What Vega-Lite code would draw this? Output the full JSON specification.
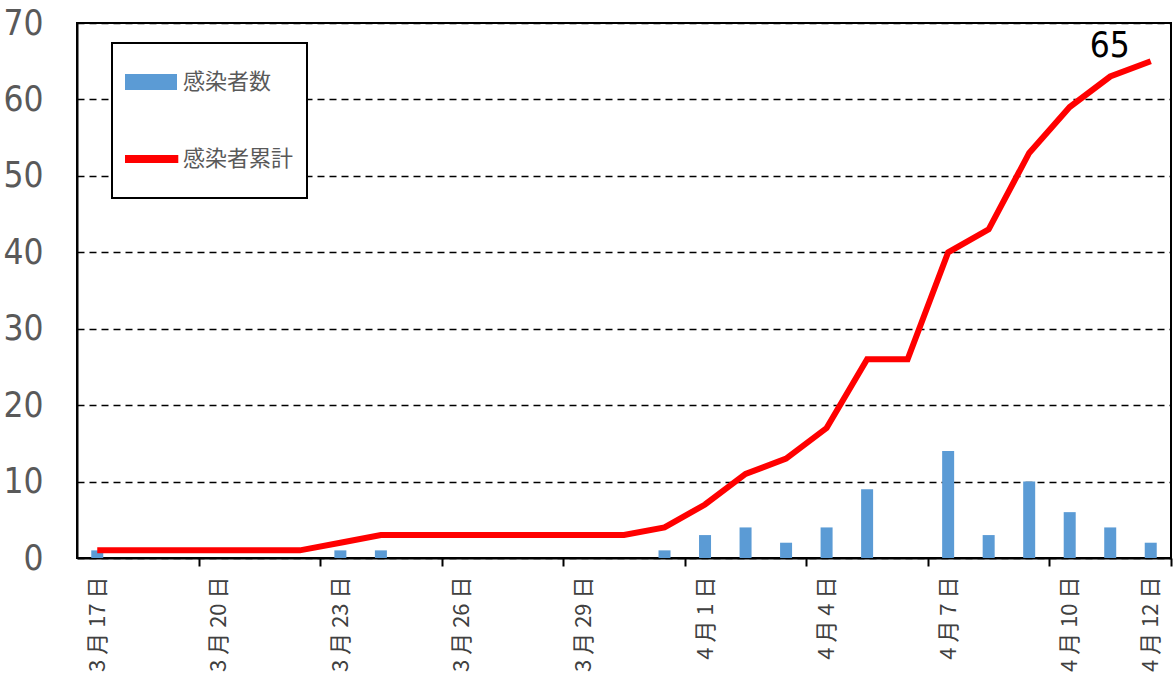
{
  "$schema": "https://vega.github.io/schema/vega-lite/v6.json",
  "width": 1094,
  "height": 535,
  "autosize": "none",
  "padding": {"left": 77, "top": 23, "right": 2, "bottom": 133},
  "background": "white",
  "config": {
    "view": {"stroke": "black", "strokeWidth": 2},
    "font": "Noto Sans CJK JP"
  },
  "data": {
    "values": [
      {"date": "3 月 17 日", "daily": 1, "cumulative": 1},
      {"date": "3 月 18 日", "daily": 0, "cumulative": 1},
      {"date": "3 月 19 日", "daily": 0, "cumulative": 1},
      {"date": "3 月 20 日", "daily": 0, "cumulative": 1},
      {"date": "3 月 21 日", "daily": 0, "cumulative": 1},
      {"date": "3 月 22 日", "daily": 0, "cumulative": 1},
      {"date": "3 月 23 日", "daily": 1, "cumulative": 2},
      {"date": "3 月 24 日", "daily": 1, "cumulative": 3},
      {"date": "3 月 25 日", "daily": 0, "cumulative": 3},
      {"date": "3 月 26 日", "daily": 0, "cumulative": 3},
      {"date": "3 月 27 日", "daily": 0, "cumulative": 3},
      {"date": "3 月 28 日", "daily": 0, "cumulative": 3},
      {"date": "3 月 29 日", "daily": 0, "cumulative": 3},
      {"date": "3 月 30 日", "daily": 0, "cumulative": 3},
      {"date": "3 月 31 日", "daily": 1, "cumulative": 4},
      {"date": "4 月 1 日", "daily": 3, "cumulative": 7},
      {"date": "4 月 2 日", "daily": 4, "cumulative": 11},
      {"date": "4 月 3 日", "daily": 2, "cumulative": 13},
      {"date": "4 月 4 日", "daily": 4, "cumulative": 17},
      {"date": "4 月 5 日", "daily": 9, "cumulative": 26},
      {"date": "4 月 6 日", "daily": 0, "cumulative": 26},
      {"date": "4 月 7 日", "daily": 14, "cumulative": 40},
      {"date": "4 月 8 日", "daily": 3, "cumulative": 43},
      {"date": "4 月 9 日", "daily": 10, "cumulative": 53},
      {"date": "4 月 10 日", "daily": 6, "cumulative": 59},
      {"date": "4 月 11 日", "daily": 4, "cumulative": 63},
      {"date": "4 月 12 日", "daily": 2, "cumulative": 65}
    ]
  },
  "encoding": {
    "x": {
      "field": "date",
      "type": "ordinal",
      "sort": null,
      "scale": {"paddingInner": 0, "paddingOuter": 0},
      "axis": {
        "title": null,
        "labelExpr": "indexof(['3 月 17 日', '3 月 20 日', '3 月 23 日', '3 月 26 日', '3 月 29 日', '4 月 1 日', '4 月 4 日', '4 月 7 日', '4 月 10 日', '4 月 12 日'], datum.value) >= 0 ? datum.label : ''",
        "labelOverlap": false,
        "labelAngle": 270,
        "labelFontSize": 22,
        "labelColor": "#404040",
        "labelPadding": 10,
        "tickBand": "extent",
        "tickSize": 8,
        "tickColor": {"condition": {"test": "indexof(['3 月 19 日', '3 月 22 日', '3 月 25 日', '3 月 28 日', '3 月 31 日', '4 月 3 日', '4 月 6 日', '4 月 9 日', '4 月 12 日'], datum.value) >= 0", "value": "black"}, "value": "transparent"},
        "tickWidth": 2,
        "domainColor": "black",
        "domainWidth": 2,
        "grid": false
      }
    }
  },
  "layer": [
    {
      "mark": {"type": "bar", "width": 12},
      "encoding": {
        "y": {
          "field": "daily",
          "type": "quantitative",
          "scale": {"domain": [0, 70], "nice": false},
          "axis": {
            "title": null,
            "values": [0, 10, 20, 30, 40, 50, 60, 70],
            "labelFont": "'Liberation Sans Narrow', 'DejaVu Sans Condensed', Roboto, sans-serif",
            "labelFontSize": 35,
            "labelColor": "#595959",
            "labelPadding": 34,
            "ticks": false,
            "grid": true,
            "gridColor": "black",
            "gridDash": [7, 5],
            "gridWidth": 1.5,
            "domainColor": "black",
            "domainWidth": 2
          }
        },
        "color": {
          "datum": "感染者数",
          "type": "nominal",
          "scale": {"domain": ["感染者数", "感染者累計"], "range": ["#5B9BD5", "#FF0000"]},
          "legend": {
            "title": null,
            "orient": "none",
            "legendX": 35,
            "legendY": 20,
            "fillColor": "white",
            "strokeColor": "black",
            "padding": 13,
            "rowPadding": 25,
            "clipHeight": 52,
            "symbolSize": 2704,
            "labelFontSize": 22,
            "labelColor": "#595959",
            "labelOffset": 6,
            "encode": {
              "legend": {"update": {"strokeWidth": {"value": 2}}},
              "symbols": {
                "update": {
                  "shape": [{"test": "datum.value === '感染者数'", "value": "M-1,-0.31H1V0.31H-1Z"}, {"value": "M-1.05,-0.15H1.05V0.15H-1.05Z"}],
                  "fill": [{"test": "datum.value === '感染者数'", "value": "#5B9BD5"}, {"value": "#FF0000"}],
                  "stroke": {"value": "transparent"},
                  "strokeWidth": {"value": 0},
                  "opacity": {"value": 1},
                  "fillOpacity": {"value": 1}
                }
              }
            }
          }
        }
      }
    },
    {
      "mark": {"type": "line", "strokeWidth": 6},
      "encoding": {
        "y": {"field": "cumulative", "type": "quantitative"},
        "color": {"datum": "感染者累計", "type": "nominal"}
      }
    },
    {
      "transform": [{"filter": "datum.date === '4 月 12 日'"}],
      "mark": {"type": "text", "font": "'Liberation Sans Narrow', 'DejaVu Sans Condensed', Roboto, sans-serif", "fontSize": 35, "color": "black", "align": "center", "baseline": "alphabetic", "dx": -41, "dy": -4},
      "encoding": {
        "y": {"field": "cumulative", "type": "quantitative"},
        "text": {"field": "cumulative", "type": "quantitative"}
      }
    }
  ]
}
